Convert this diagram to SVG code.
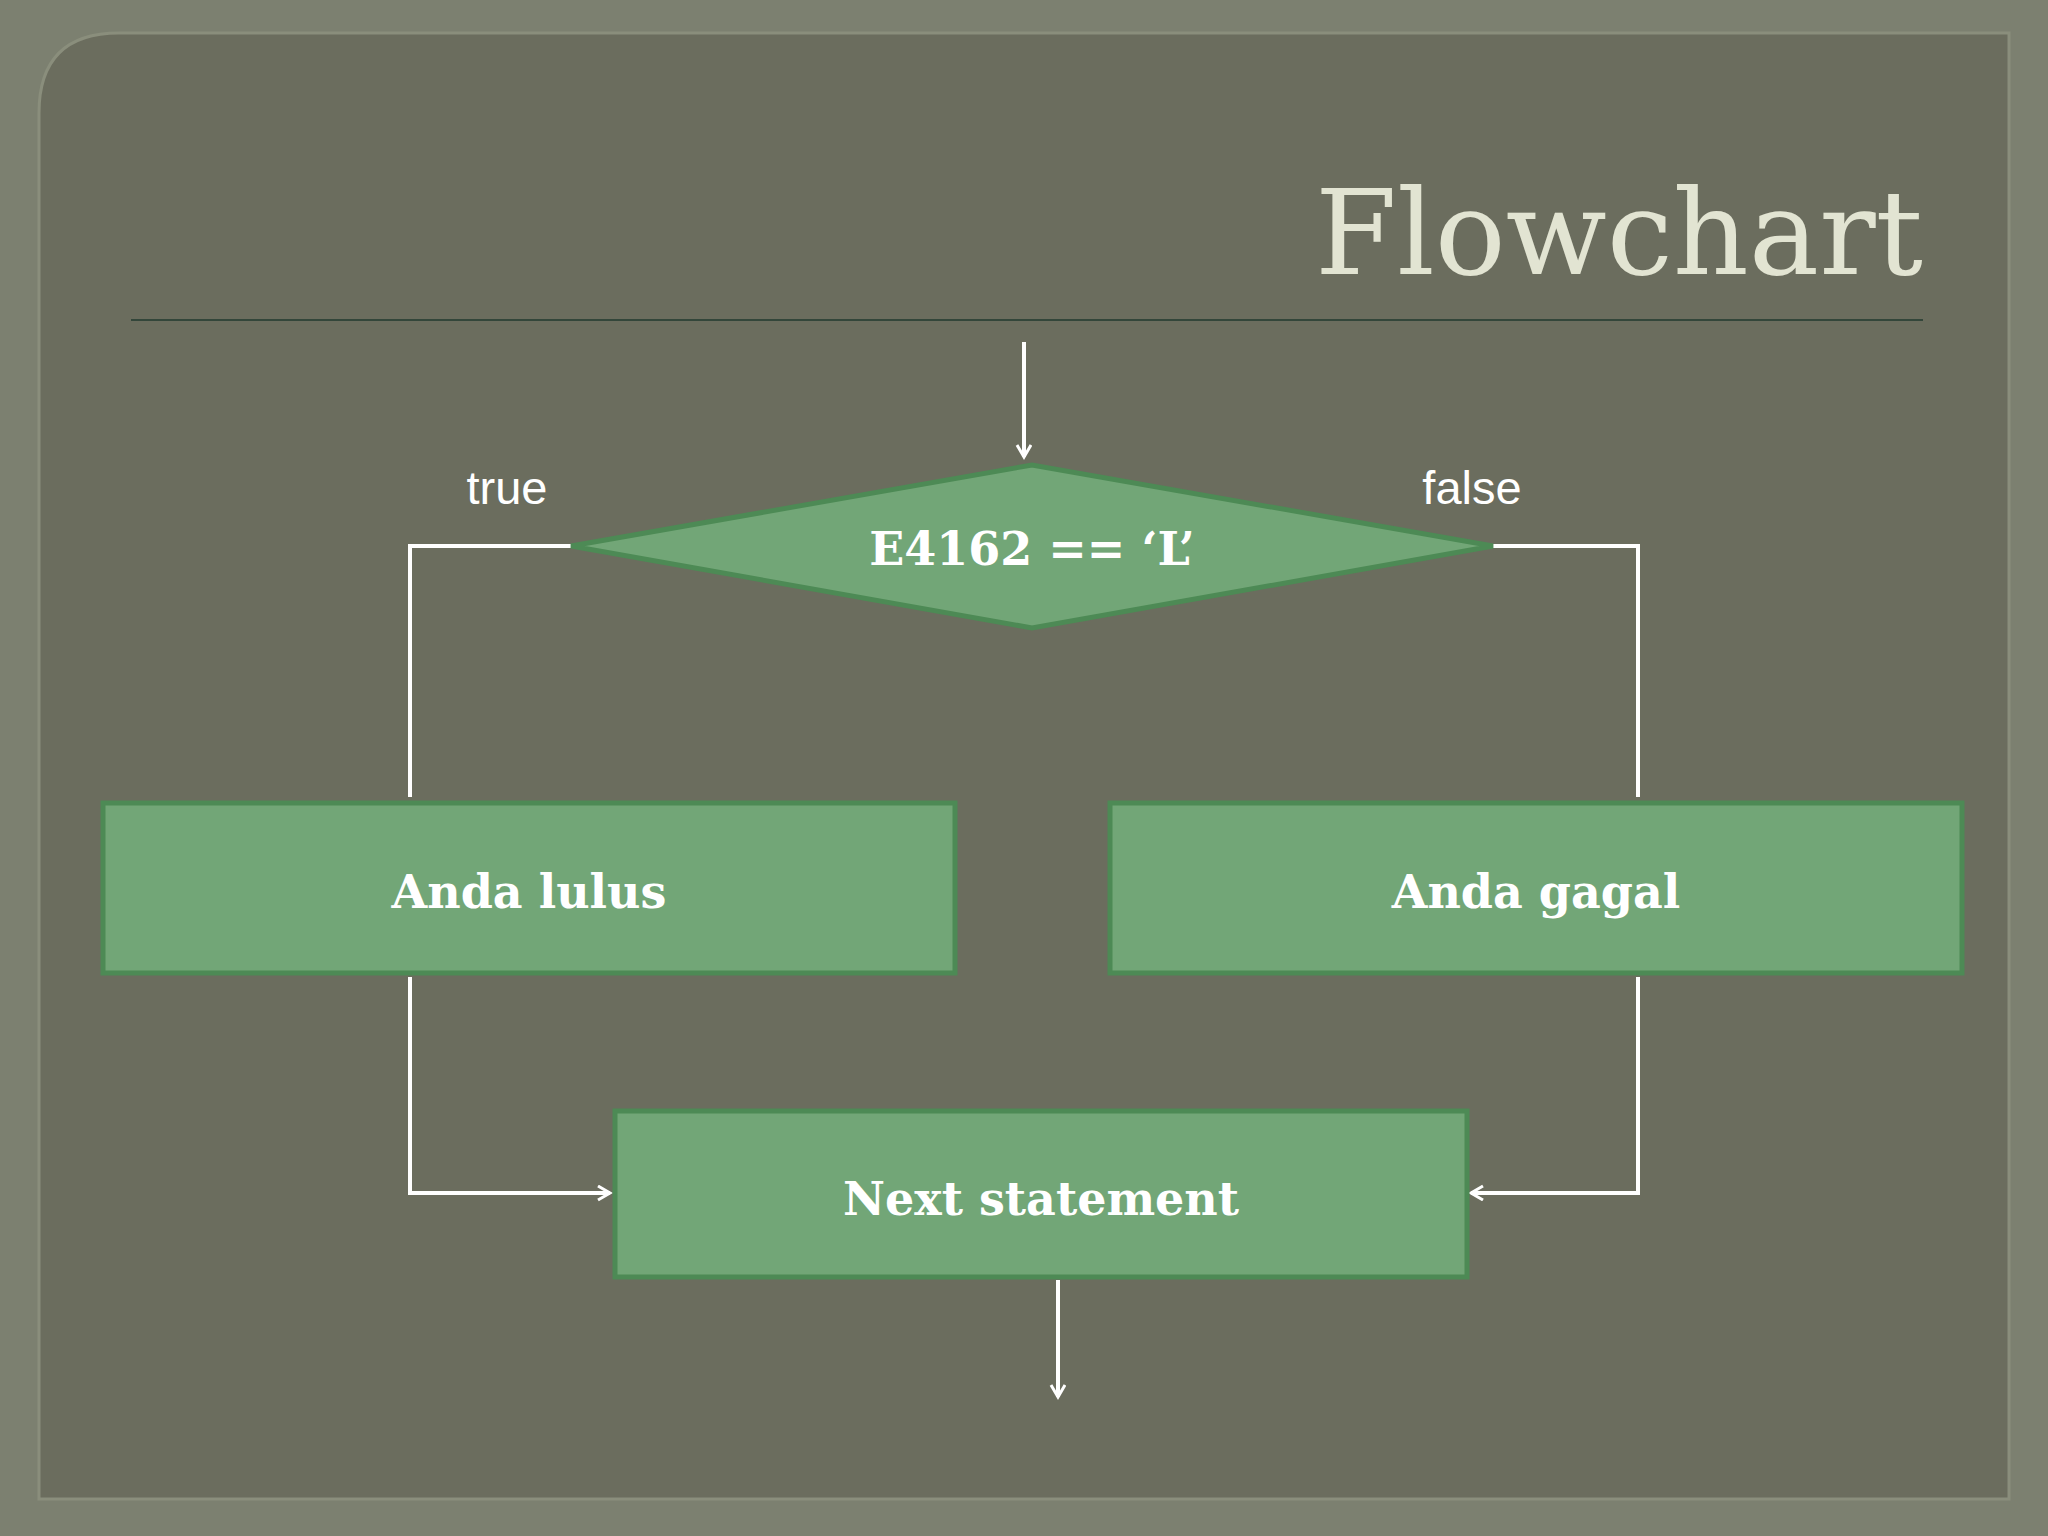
<svg xmlns="http://www.w3.org/2000/svg" width="2048" height="1536" viewBox="0 0 2048 1536">
<defs>
<marker id="v" markerWidth="20" markerHeight="20" refX="14" refY="8" orient="auto" markerUnits="userSpaceOnUse"><path d="M2,1 L14,8 L2,15" fill="none" stroke="#fff" stroke-width="3"/></marker>
<style>
.box{fill:#72a677;stroke:#4d8a55;stroke-width:5}
.lbl{font-family:"DejaVu Serif",serif;font-weight:bold;font-size:46px;fill:#fff;text-anchor:middle}
.c{fill:none;stroke:#fff;stroke-width:4}
.t{font-family:"Liberation Sans",sans-serif;font-size:47px;fill:#fff;text-anchor:middle}
</style>
</defs>
<rect width="2048" height="1536" fill="#7c8070"/>
<path d="M119,33 H2009 V1499 H39 V113 Q39,33 119,33 Z" fill="#6b6d5e" stroke="#8a8e7c" stroke-width="3"/>
<text x="1923" y="274" text-anchor="end" font-family="DejaVu Serif,serif" font-size="118" fill="#e2e4d2">Flowchart</text>
<line x1="131" y1="320" x2="1923" y2="320" stroke="#33463a" stroke-width="2"/>
<g id="connectors">
<line class="c" x1="1024" y1="342" x2="1024" y2="457" marker-end="url(#v)"/>
<polyline class="c" points="571,546 410,546 410,797"/>
<polyline class="c" points="1493,546 1638,546 1638,797"/>
<polyline class="c" points="410,977 410,1193 610,1193" marker-end="url(#v)"/>
<polyline class="c" points="1638,977 1638,1193 1471,1193" marker-end="url(#v)"/>
<line class="c" x1="1058" y1="1280" x2="1058" y2="1397" marker-end="url(#v)"/>
<text class="t" x="507" y="504">true</text>
<text class="t" x="1472" y="504">false</text>
</g>
<g id="decision"><polygon class="box" points="571,546 1032,465 1493,546 1032,628"/><text class="lbl" x="1032" y="565">E4162 == ‘L’</text></g>
<g id="lulus"><rect class="box" x="103" y="803" width="852" height="170"/><text class="lbl" x="529" y="908">Anda lulus</text></g>
<g id="gagal"><rect class="box" x="1110" y="803" width="852" height="170"/><text class="lbl" x="1536" y="908">Anda gagal</text></g>
<g id="next"><rect class="box" x="615" y="1111" width="852" height="166"/><text class="lbl" x="1041" y="1215">Next statement</text></g>
</svg>
